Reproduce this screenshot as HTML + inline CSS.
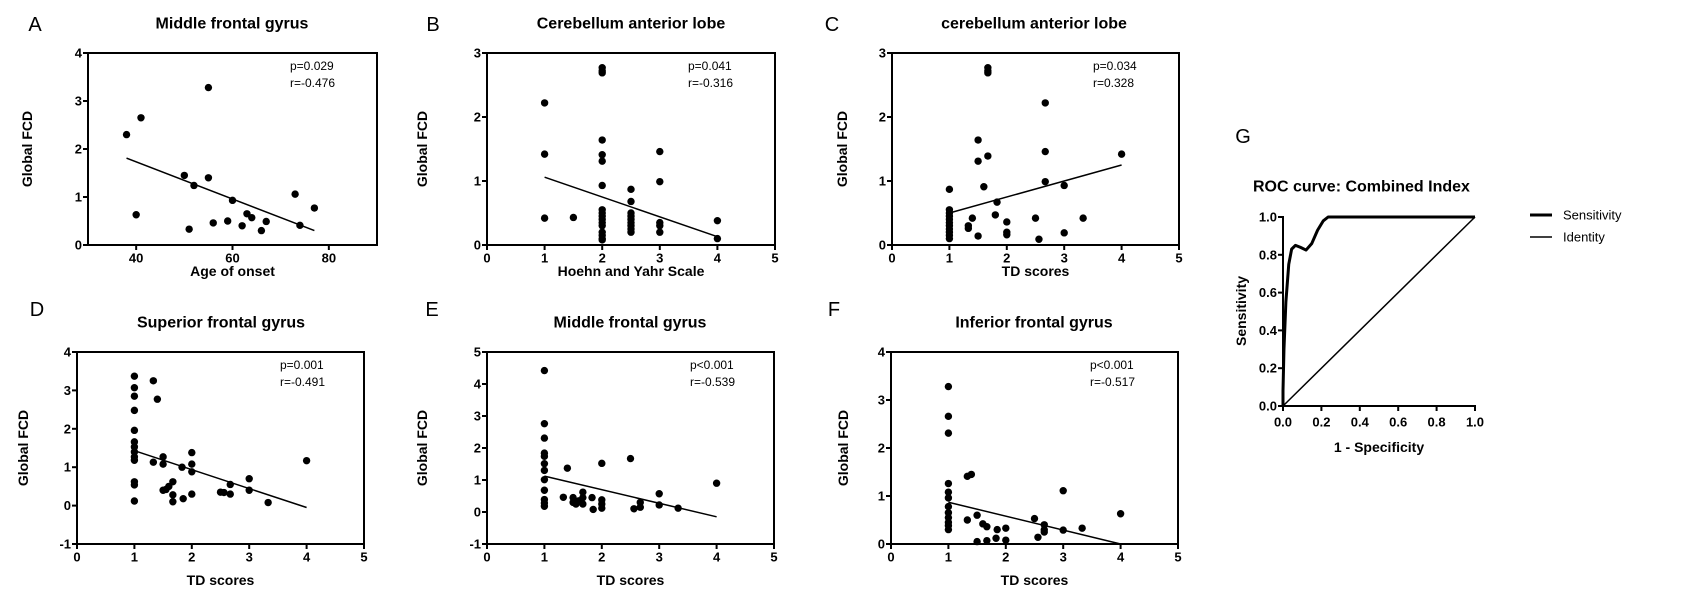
<!DOCTYPE html>
<html><head><meta charset="utf-8"><style>
html,body{margin:0;padding:0;background:#fff;}
svg{display:block;font-family:"Liberation Sans",Arial,sans-serif;}
</style></head><body>
<svg id="fig" width="1708" height="603" viewBox="0 0 1708 603" xmlns="http://www.w3.org/2000/svg"></svg>
<script>
// ---- data ----
const aX=[38,40,41,50,51,52,55,55,56,59,60,62,63,64,66,67,73,74,77];
const aY=[2.3,0.63,2.65,1.45,0.33,1.24,3.28,1.4,0.46,0.5,0.93,0.4,0.65,0.57,0.3,0.49,1.06,0.41,0.77];
const aFit=[[38,1.81],[77,0.3]];
const bX=[1,1,1,1.5,2,2,2,2,2,2,2,2,2,2,2,2,2,2,2,2,2,2.5,2.5,2.5,2.5,2.5,2.5,2.5,2.5,2.5,3,3,3,3,3,4,4];
const bY=[2.22,1.42,0.42,0.43,2.77,2.72,2.69,1.64,1.41,1.31,0.93,0.55,0.5,0.45,0.4,0.35,0.3,0.2,0.15,0.1,0.08,0.87,0.68,0.5,0.45,0.4,0.35,0.3,0.25,0.2,1.46,0.99,0.35,0.3,0.2,0.38,0.1];
const bFit=[[1,1.06],[4,0.13]];
const cX=[1.67,1.67,1.67,2.67,1.5,1.5,1.67,2.67,4,1.6,2.67,3,1,1.83,1.8,1.4,1.33,1.33,1.5,2,2,2,2.5,2.56,3,3.33,1,1,1,1,1,1,1,1,1,1];
const cY=[2.77,2.72,2.69,2.22,1.64,1.31,1.39,1.46,1.42,0.91,0.99,0.93,0.87,0.67,0.47,0.42,0.3,0.26,0.14,0.36,0.2,0.16,0.42,0.09,0.19,0.42,0.55,0.5,0.45,0.4,0.35,0.3,0.25,0.2,0.15,0.1];
const cFit=[[1,0.5],[4,1.25]];
const dX=[1,1,1,1,1,1,1,1,1,1,1,1,1,1.33,1.4,1.33,1.5,1.5,1.5,1.55,1.6,1.67,1.67,1.67,1.83,1.85,2,2,2,2,2.5,2.56,2.67,2.67,3,3,3.33,4];
const dY=[3.37,3.07,2.85,2.48,1.96,1.66,1.53,1.4,1.27,1.18,0.62,0.54,0.12,3.25,2.77,1.13,1.27,1.08,0.4,0.42,0.5,0.62,0.28,0.1,1.0,0.18,1.38,1.08,0.88,0.3,0.35,0.34,0.55,0.3,0.7,0.4,0.08,1.17];
const dFit=[[1,1.43],[4,-0.05]];
const eX=[1,1,1,1,1,1,1,1,1,1,1,1,1.33,1.4,1.5,1.5,1.55,1.6,1.67,1.67,1.67,1.83,1.85,2,2,2,2,2.5,2.56,2.67,2.67,3,3,3.33,4];
const eY=[4.42,2.76,2.31,1.84,1.74,1.51,1.3,1.01,0.68,0.39,0.28,0.18,0.46,1.37,0.45,0.3,0.25,0.35,0.62,0.45,0.25,0.45,0.08,1.52,0.38,0.25,0.12,1.67,0.1,0.3,0.15,0.57,0.22,0.12,0.9];
const eFit=[[1,1.12],[4,-0.15]];
const fX=[1,1,1,1,1,1,1,1,1,1,1,1,1.33,1.4,1.33,1.5,1.5,1.6,1.67,1.67,1.83,1.85,2,2,2.5,2.56,2.67,2.67,2.67,3,3,3.33,4];
const fY=[3.28,2.66,2.31,1.26,1.08,0.96,0.78,0.65,0.55,0.45,0.38,0.3,1.41,1.45,0.5,0.6,0.05,0.42,0.36,0.07,0.12,0.3,0.33,0.08,0.53,0.14,0.4,0.3,0.25,1.11,0.29,0.33,0.63];
const fFit=[[1,0.87],[4,0.0]];
const aTicksX=[40,60,80];
const tdTicksX=[0,1,2,3,4,5];
const rocFpr=[0,0,0.005,0.015,0.03,0.045,0.065,0.09,0.12,0.15,0.18,0.21,0.235,1];
const rocTpr=[0,0.08,0.3,0.55,0.75,0.83,0.85,0.84,0.825,0.86,0.93,0.98,1,1];
const rocTicks=[0,0.2,0.4,0.6,0.8,1.0];

const NS="http://www.w3.org/2000/svg";
const svg=document.getElementById('fig');
function mk(tag,attrs,parent,txt){const e=document.createElementNS(NS,tag);for(const k in attrs)e.setAttribute(k,attrs[k]);if(txt!==undefined)e.textContent=txt;(parent||svg).appendChild(e);return e;}

function panel(o){
  const g=mk('g',{});
  
  
  const sx=v=>o.x0+(v-o.xmin)/(o.xmax-o.xmin)*(o.x1-o.x0);
  const sy=v=>o.y1-(v-o.ymin)/(o.ymax-o.ymin)*(o.y1-o.y0);
  const lt=mk('text',{x:o.lx,y:o.ly,'font-size':20,'text-anchor':'middle','dominant-baseline':'central'},g,o.letter);
   
  const ti=mk('text',{x:o.tx,y:o.ty,'font-size':16,'font-weight':'bold','text-anchor':'middle','dominant-baseline':'central'},g,o.title);
   
  const box=mk('rect',{x:o.x0,y:o.y0,width:o.x1-o.x0,height:o.y1-o.y0,fill:'none',stroke:'#000','stroke-width':2},g);
   
  o.yt.forEach(v=>{
    const y=sy(v);
    mk('line',{x1:o.x0-5,x2:o.x0,y1:y,y2:y,stroke:'#000','stroke-width':2},g);
    const t=mk('text',{x:o.x0-6,y:y,'font-size':13,'font-weight':'bold','text-anchor':'end','dominant-baseline':'central'},g,String(v));
     
  });
  o.xt.forEach(v=>{
    const x=sx(v);
    mk('line',{x1:x,x2:x,y1:o.y1,y2:o.y1+5,stroke:'#000','stroke-width':2},g);
    const t=mk('text',{x:x,y:o.y1+13,'font-size':13,'font-weight':'bold','text-anchor':'middle','dominant-baseline':'central'},g,String(v));
     
  });
  const xt=mk('text',{x:(o.x0+o.x1)/2,y:o.y1+o.xto,'font-size':14,'font-weight':'bold','text-anchor':'middle','dominant-baseline':'central'},g,o.xlab);
   
  const yc=(o.y0+o.y1)/2;
  const yt=mk('text',{x:o.ytx,y:yc,'font-size':14,'font-weight':'bold','text-anchor':'middle','dominant-baseline':'central',transform:`rotate(-90 ${o.ytx} ${yc})`},g,'Global FCD');
   
  const fl=mk('line',{x1:sx(o.fit[0][0]),y1:sy(o.fit[0][1]),x2:sx(o.fit[1][0]),y2:sy(o.fit[1][1]),stroke:'#000','stroke-width':1.5},g);
   
  o.xs.forEach((v,i)=>{
    const c=mk('circle',{cx:sx(v),cy:sy(o.ys[i]),r:3.7,fill:'#000'},g);
     
  });
  const s1=mk('text',{x:o.sx,y:o.y0+17,'font-size':12},g,o.p);
   
  const s2=mk('text',{x:o.sx,y:o.y0+34,'font-size':12},g,o.r);
   
}

panel({letter:'A',lx:35,ly:25,title:'Middle frontal gyrus',tx:232,ty:24,x0:88,x1:377,y0:53,y1:245,xmin:30,xmax:90,ymin:0,ymax:4,xt:aTicksX,yt:[0,1,2,3,4],xs:aX,ys:aY,fit:aFit,xlab:'Age of onset',xto:26,ytx:27,p:'p=0.029',r:'r=-0.476',sx:290});
panel({letter:'B',lx:433,ly:25,title:'Cerebellum anterior lobe',tx:631,ty:24,x0:487,x1:775,y0:53,y1:245,xmin:0,xmax:5,ymin:0,ymax:3,xt:tdTicksX,yt:[0,1,2,3],xs:bX,ys:bY,fit:bFit,xlab:'Hoehn and Yahr Scale',xto:26,ytx:422,p:'p=0.041',r:'r=-0.316',sx:688});
panel({letter:'C',lx:832,ly:25,title:'cerebellum anterior lobe',tx:1034,ty:24,x0:892,x1:1179,y0:53,y1:245,xmin:0,xmax:5,ymin:0,ymax:3,xt:tdTicksX,yt:[0,1,2,3],xs:cX,ys:cY,fit:cFit,xlab:'TD scores',xto:26,ytx:842,p:'p=0.034',r:'r=0.328',sx:1093});
panel({letter:'D',lx:37,ly:310,title:'Superior frontal gyrus',tx:221,ty:323,x0:77,x1:364,y0:352,y1:544,xmin:0,xmax:5,ymin:-1,ymax:4,xt:tdTicksX,yt:[-1,0,1,2,3,4],xs:dX,ys:dY,fit:dFit,xlab:'TD scores',xto:36,ytx:23,p:'p=0.001',r:'r=-0.491',sx:280});
panel({letter:'E',lx:432,ly:310,title:'Middle frontal gyrus',tx:630,ty:323,x0:487,x1:774,y0:352,y1:544,xmin:0,xmax:5,ymin:-1,ymax:5,xt:tdTicksX,yt:[-1,0,1,2,3,4,5],xs:eX,ys:eY,fit:eFit,xlab:'TD scores',xto:36,ytx:422,p:'p<0.001',r:'r=-0.539',sx:690});
panel({letter:'F',lx:834,ly:310,title:'Inferior frontal gyrus',tx:1034,ty:323,x0:891,x1:1178,y0:352,y1:544,xmin:0,xmax:5,ymin:0,ymax:4,xt:tdTicksX,yt:[0,1,2,3,4],xs:fX,ys:fY,fit:fFit,xlab:'TD scores',xto:36,ytx:843,p:'p<0.001',r:'r=-0.517',sx:1090});

// ---- ROC panel G ----
(function(){
  const g=mk('g',{});
   
  const x0=1283,x1=1475,y0=217,y1=406;
  const sx=v=>x0+v*(x1-x0), sy=v=>y1-v*(y1-y0);
  const L=mk('text',{x:1243,y:137,'font-size':20,'text-anchor':'middle','dominant-baseline':'central'},g,'G');
   
  const T=mk('text',{x:1253,y:187,'font-size':16,'font-weight':'bold','dominant-baseline':'central'},g,'ROC curve: Combined Index');
   
  mk('line',{x1:x0,y1:y0-1,x2:x0,y2:y1,stroke:'#000','stroke-width':2},g);
  mk('line',{x1:x0,y1:y1,x2:x1+1,y2:y1,stroke:'#000','stroke-width':2},g);
  rocTicks.forEach(v=>{
    const y=sy(v),x=sx(v);
    mk('line',{x1:x0-5,x2:x0,y1:y,y2:y,stroke:'#000','stroke-width':2},g);
    const a=mk('text',{x:x0-6,y:y,'font-size':13,'font-weight':'bold','text-anchor':'end','dominant-baseline':'central'},g,v.toFixed(1));
     
    mk('line',{x1:x,x2:x,y1:y1,y2:y1+5,stroke:'#000','stroke-width':2},g);
    const b=mk('text',{x:x,y:y1+16,'font-size':13,'font-weight':'bold','text-anchor':'middle','dominant-baseline':'central'},g,v.toFixed(1));
     
  });
  const xt=mk('text',{x:(x0+x1)/2,y:447,'font-size':14,'font-weight':'bold','text-anchor':'middle','dominant-baseline':'central'},g,'1 - Specificity');
   
  const yt=mk('text',{x:1241,y:311,'font-size':14,'font-weight':'bold','text-anchor':'middle','dominant-baseline':'central',transform:'rotate(-90 1241 311)'},g,'Sensitivity');
   
  const id=mk('line',{x1:sx(0),y1:sy(0),x2:sx(1),y2:sy(1),stroke:'#000','stroke-width':1.5},g);
   
  const pts=rocFpr.map((v,i)=>sx(v)+','+sy(rocTpr[i])).join(' ');
  const pl=mk('polyline',{points:pts,fill:'none',stroke:'#000','stroke-width':3,'stroke-linejoin':'round'},g);
   
  mk('line',{x1:1530,x2:1552,y1:215,y2:215,stroke:'#000','stroke-width':3},g);
  const l1=mk('text',{x:1563,y:215,'font-size':13,'dominant-baseline':'central'},g,'Sensitivity');
   
  mk('line',{x1:1530,x2:1552,y1:237,y2:237,stroke:'#000','stroke-width':1.5},g);
  const l2=mk('text',{x:1563,y:237,'font-size':13,'dominant-baseline':'central'},g,'Identity');
   
})();
</script>
</body></html>
